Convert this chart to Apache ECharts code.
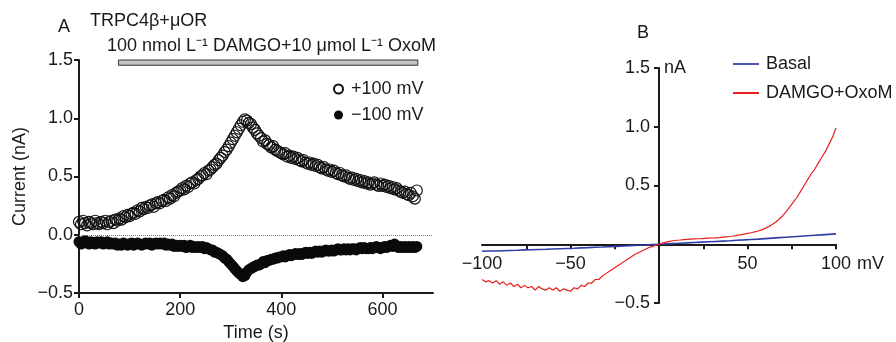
<!DOCTYPE html>
<html>
<head>
<meta charset="utf-8">
<script src="https://cdn.jsdelivr.net/npm/echarts@6/dist/echarts.min.js"></script>
<style>
  html, body { margin: 0; padding: 0; background: #fff; }
  #main { width: 896px; height: 342px; }
</style>
</head>
<body>
<div id="main"></div>
<script>
// panel A: current vs time at +100 / -100 mV
const timeS = [0,4,8,12,16,20,24,28,32,36, 40,44,48,52,56,60,64,68,72,76,
  80,84,88,92,96,100,104,108,112,116, 120,124,128,132,136,140,144,148,152,156,
  160,164,168,172,176,180,184,188,192,196, 200,204,208,212,216,220,224,228,232,236,
  240,244,248,252,256,260,264,268,272,276, 280,284,288,292,296,300,304,308,312,316,
  320,324,328,332,336,340,344,348,352,356, 360,364,368,372,376,380,384,388,392,396,
  400,404,408,412,416,420,424,428,432,436, 440,444,448,452,456,460,464,468,472,476,
  480,484,488,492,496,500,504,508,512,516, 520,524,528,532,536,540,544,548,552,556,
  560,564,568,572,576,580,584,588,592,596, 600,604,608,612,616,620,624,628,632,636,
  640,644,648,652,656,660,664,668];

const pos100 = [0.11,0.09,0.12,0.10,0.08,0.11,0.10,0.09,0.12,0.10,
  0.09,0.11,0.10,0.12,0.09,0.11,0.12,0.10,0.13,0.12,
  0.14,0.13,0.16,0.15,0.17,0.16,0.18,0.19,0.18,0.21,
  0.20,0.23,0.22,0.24,0.23,0.25,0.26,0.24,0.27,0.28,
  0.27,0.29,0.30,0.29,0.32,0.31,0.34,0.33,0.36,0.37,
  0.38,0.40,0.39,0.42,0.41,0.44,0.45,0.44,0.47,0.48,
  0.50,0.51,0.53,0.52,0.55,0.56,0.58,0.60,0.61,0.64,
  0.66,0.68,0.71,0.73,0.76,0.79,0.82,0.85,0.88,0.91,
  0.94,0.97,0.99,0.98,0.96,0.95,0.92,0.90,0.87,0.85,
  0.83,0.80,0.81,0.78,0.77,0.75,0.76,0.73,0.72,0.71,
  0.70,0.69,0.70,0.67,0.68,0.66,0.67,0.65,0.66,0.64,
  0.63,0.64,0.62,0.61,0.62,0.60,0.61,0.59,0.60,0.58,
  0.57,0.58,0.56,0.55,0.56,0.54,0.55,0.53,0.52,0.53,
  0.51,0.50,0.51,0.49,0.48,0.49,0.47,0.48,0.46,0.47,
  0.45,0.46,0.44,0.45,0.43,0.44,0.45,0.43,0.42,0.44,
  0.42,0.43,0.41,0.42,0.40,0.41,0.39,0.40,0.38,0.37,
  0.36,0.37,0.35,0.34,0.36,0.33,0.31,0.38];

const neg100 = [-0.06,-0.08,-0.07,-0.05,-0.07,-0.08,-0.06,-0.07,-0.08,-0.06,
  -0.07,-0.06,-0.08,-0.07,-0.06,-0.08,-0.07,-0.08,-0.07,-0.09,
  -0.08,-0.09,-0.07,-0.08,-0.09,-0.08,-0.07,-0.09,-0.08,-0.07,
  -0.08,-0.09,-0.08,-0.07,-0.08,-0.07,-0.09,-0.08,-0.07,-0.08,
  -0.07,-0.08,-0.07,-0.09,-0.08,-0.09,-0.08,-0.10,-0.09,-0.10,
  -0.09,-0.10,-0.09,-0.11,-0.10,-0.09,-0.11,-0.10,-0.11,-0.10,
  -0.11,-0.10,-0.12,-0.11,-0.12,-0.13,-0.13,-0.15,-0.15,-0.16,
  -0.17,-0.18,-0.20,-0.21,-0.23,-0.25,-0.27,-0.29,-0.31,-0.33,
  -0.34,-0.36,-0.35,-0.32,-0.30,-0.29,-0.28,-0.27,-0.26,-0.26,
  -0.25,-0.23,-0.24,-0.22,-0.22,-0.21,-0.21,-0.20,-0.20,-0.19,
  -0.19,-0.18,-0.19,-0.18,-0.17,-0.18,-0.17,-0.16,-0.17,-0.16,
  -0.17,-0.16,-0.15,-0.16,-0.15,-0.16,-0.15,-0.14,-0.15,-0.14,
  -0.15,-0.14,-0.13,-0.14,-0.14,-0.13,-0.14,-0.13,-0.12,-0.13,
  -0.13,-0.12,-0.13,-0.12,-0.13,-0.12,-0.12,-0.13,-0.12,-0.11,
  -0.12,-0.11,-0.12,-0.12,-0.11,-0.12,-0.11,-0.10,-0.11,-0.12,
  -0.11,-0.10,-0.11,-0.10,-0.09,-0.10,-0.08,-0.10,-0.11,-0.10,
  -0.11,-0.10,-0.11,-0.10,-0.11,-0.10,-0.11,-0.10];

// drug application bar (s) and its level (nA)
const drugPeriod = [78, 670];
const drugBarLevel = [1.455, 1.5];

const timeTicks = [0, 200, 400, 600];
const currentTicksA = [-0.5, 0, 0.5, 1.0, 1.5];

// panel B: I-V ramps
const rampMv = [-100,-98,-96,-94,-92,-90,-88,-86,-84,-82,-80,-78,-76,-74,-72,-70,-68,-66,-64,-62,
  -60,-58,-56,-54,-52,-50,-48,-46,-44,-42,-40,-38,-36,-34,-32,-30,-28,-26,-24,-22,
  -20,-18,-16,-14,-12,-10,-8,-6,-4,-2,0,2,4,6,8,10,12,14,16,18,
  20,22,24,26,28,30,32,34,36,38,40,42,44,46,48,50,52,54,56,58,
  60,62,64,66,68,70,72,74,76,78,80,82,84,86,88,90,92,94,96,98,100];

const damgoNa = [-0.30,-0.32,-0.31,-0.33,-0.31,-0.34,-0.32,-0.35,-0.33,-0.36,
  -0.34,-0.37,-0.35,-0.37,-0.36,-0.39,-0.36,-0.38,-0.39,-0.37,
  -0.39,-0.37,-0.40,-0.38,-0.39,-0.40,-0.37,-0.38,-0.35,-0.36,
  -0.33,-0.33,-0.30,-0.30,-0.27,-0.25,-0.23,-0.21,-0.19,-0.17,
  -0.15,-0.13,-0.11,-0.09,-0.075,-0.06,-0.045,-0.03,-0.02,-0.01,
  0.00,0.01,0.018,0.024,0.03,0.034,0.036,0.04,0.042,0.044,
  0.046,0.047,0.048,0.05,0.052,0.053,0.055,0.057,0.06,0.063,
  0.066,0.07,0.075,0.08,0.086,0.092,0.098,0.105,0.113,0.122,
  0.135,0.15,0.168,0.19,0.215,0.245,0.28,0.32,0.36,0.40,
  0.45,0.50,0.55,0.60,0.64,0.69,0.74,0.79,0.85,0.91,0.99];

const basalMv = [-100,-96,-92,-88,-84,-80,-76,-72,-68,-64,-60,-56,-52,-48,-44,-40,-36,-32,-28,-24,
  -20,-16,-12,-8,-4,0,4,8,12,16,20,24,28,32,36,40,44,48,52,56,
  60,64,68,72,76,80,84,88,92,96,100];

const basalNa = [-0.060,-0.058,-0.057,-0.055,-0.053,-0.051,-0.048,-0.047,-0.045,-0.043,
  -0.040,-0.038,-0.036,-0.034,-0.031,-0.029,-0.026,-0.024,-0.021,-0.018,
  -0.015,-0.012,-0.009,-0.006,-0.003,0.000,0.003,0.006,0.009,0.012,
  0.015,0.018,0.021,0.024,0.027,0.030,0.034,0.037,0.041,0.044,
  0.048,0.052,0.056,0.060,0.064,0.068,0.072,0.076,0.080,0.084,0.088];

const mvTicks = [-75, -50, -25, 25, 50, 75, 100];
const mvLabels = [-100, -50, 50, 100];
const currentTicksB = [-0.5, 0.5, 1.0, 1.5];

const FONT = "'Liberation Sans', Arial, sans-serif";
const INK = '#1a1a1a';
const minus = v => String(v).replace('-', '\u2212');

const chart = echarts.init(document.getElementById('main'), null, { renderer: 'canvas' });

const txt = { fontFamily: FONT, fontSize: 18, fontWeight: 'normal', color: INK };
const axisLine = { show: true, onZero: false, lineStyle: { color: INK, width: 2 } };
const axisTick = { show: true, length: 5, lineStyle: { color: INK, width: 2 } };

// grid B: the axes cross at (0, 0)
const gridB = { left: 482, top: 68, width: 354, height: 235 };

const option = {
  backgroundColor: '#fff',
  animation: false,
  textStyle: { fontFamily: FONT },
  title: [
    { text: 'A', left: 58, top: 18, padding: 0, textStyle: txt },
    { text: 'TRPC4\u03b2+\u03bcOR', left: 90, top: 12, padding: 0, textStyle: txt },
    { text: '100 nmol L\u207b\u00b9 DAMGO+10 \u03bcmol L\u207b\u00b9 OxoM', left: 107, top: 37, padding: 0, textStyle: txt },
    { text: 'B', left: 637, top: 24, padding: 0, textStyle: txt }
  ],
  legend: [
    {
      left: 333, top: 80, orient: 'vertical', padding: 0,
      itemWidth: 9, itemHeight: 9, itemGap: 8,
      textStyle: { fontFamily: FONT, fontSize: 18, color: INK, padding: [0, 0, 0, 3] },
      data: ['+100 mV', '\u2212100 mV']
    },
    {
      left: 733, top: 55, orient: 'vertical', padding: 0,
      itemWidth: 26, itemHeight: 2, itemGap: 11,
      textStyle: { fontFamily: FONT, fontSize: 18, color: INK, padding: [0, 0, 0, 2] },
      data: [{ name: 'Basal', icon: 'rect' }, { name: 'DAMGO+OxoM', icon: 'rect' }]
    }
  ],
  grid: [
    { left: 79, top: 60, width: 354, height: 233, outerBoundsMode: 'none' },
    Object.assign({ outerBoundsMode: 'none' }, gridB)
  ],
  xAxis: [
    {
      gridIndex: 0, type: 'value', min: 0, max: 700,
      name: 'Time (s)', nameLocation: 'middle', nameGap: 28,
      nameTextStyle: { fontFamily: FONT, fontSize: 18, color: INK },
      axisLine: axisLine,
      axisTick: Object.assign({ customValues: timeTicks }, axisTick),
      axisLabel: { customValues: timeTicks, margin: 8, fontFamily: FONT, fontSize: 18, color: INK },
      splitLine: { show: false }
    },
    {
      gridIndex: 1, type: 'value', min: -100, max: 100,
      position: 'bottom', offset: -gridB.height * 0.25,
      name: 'mV', nameLocation: 'end', nameGap: 19,
      nameTextStyle: { fontFamily: FONT, fontSize: 18, color: INK, align: 'left', verticalAlign: 'top', padding: [11, 0, 0, 0] },
      axisLine: axisLine,
      axisTick: Object.assign({ customValues: mvTicks }, axisTick),
      axisLabel: { customValues: mvLabels, margin: 11, fontFamily: FONT, fontSize: 18, color: INK, formatter: minus },
      splitLine: { show: false }
    }
  ],
  yAxis: [
    {
      gridIndex: 0, type: 'value', min: -0.5, max: 1.5,
      name: 'Current (nA)', nameLocation: 'middle', nameGap: 50,
      nameTextStyle: { fontFamily: FONT, fontSize: 18, color: INK },
      axisLine: axisLine,
      axisTick: Object.assign({ customValues: currentTicksA }, axisTick),
      axisLabel: { customValues: currentTicksA, margin: 6, fontFamily: FONT, fontSize: 18, color: INK,
        formatter: v => minus(v.toFixed(1)) },
      splitLine: { show: false }
    },
    {
      gridIndex: 1, type: 'value', min: -0.5, max: 1.5,
      position: 'left', offset: -gridB.width * 0.5,
      name: 'nA', nameLocation: 'end', nameGap: 0,
      nameTextStyle: { fontFamily: FONT, fontSize: 18, color: INK, align: 'left', verticalAlign: 'middle', padding: [0, 0, 0, 5] },
      axisLine: axisLine,
      axisTick: Object.assign({ customValues: currentTicksB }, axisTick),
      axisLabel: { customValues: currentTicksB, margin: 9, fontFamily: FONT, fontSize: 18, color: INK,
        formatter: v => minus(v.toFixed(1)) },
      splitLine: { show: false }
    }
  ],
  series: [
    {
      name: '\u2212100 mV', type: 'scatter', xAxisIndex: 0, yAxisIndex: 0,
      symbol: 'circle', symbolSize: 11,
      itemStyle: { color: '#0a0a0a', opacity: 1 },
      data: timeS.map((t, i) => [t, neg100[i]]),
      markLine: {
        silent: true, symbol: ['none', 'none'], label: { show: false },
        lineStyle: { color: '#777', type: 'dotted', width: 1 },
        data: [{ yAxis: 0 }]
      }
    },
    {
      name: '+100 mV', type: 'scatter', xAxisIndex: 0, yAxisIndex: 0,
      symbol: 'circle', symbolSize: 11,
      itemStyle: { color: 'rgba(0,0,0,0)', borderColor: '#111', borderWidth: 1.2, opacity: 1 },
      data: timeS.map((t, i) => [t, pos100[i]]),
      markArea: {
        silent: true,
        itemStyle: { color: '#c4c4c4', borderColor: '#333', borderWidth: 1, opacity: 1 },
        data: [[{ coord: [drugPeriod[0], drugBarLevel[0]] }, { coord: [drugPeriod[1], drugBarLevel[1]] }]]
      }
    },
    {
      name: 'Basal', type: 'line', xAxisIndex: 1, yAxisIndex: 1,
      symbol: 'none', lineStyle: { color: '#2e3ea6', width: 1.6 }, itemStyle: { color: '#4a55b8' },
      data: basalMv.map((v, i) => [v, basalNa[i]])
    },
    {
      name: 'DAMGO+OxoM', type: 'line', xAxisIndex: 1, yAxisIndex: 1,
      symbol: 'none', lineStyle: { color: '#e8201c', width: 1.2 }, itemStyle: { color: '#e8201c' },
      data: rampMv.map((v, i) => [v, damgoNa[i]])
    }
  ]
};

chart.setOption(option);
window.addEventListener('resize', () => chart.resize());
</script>
</body>
</html>
